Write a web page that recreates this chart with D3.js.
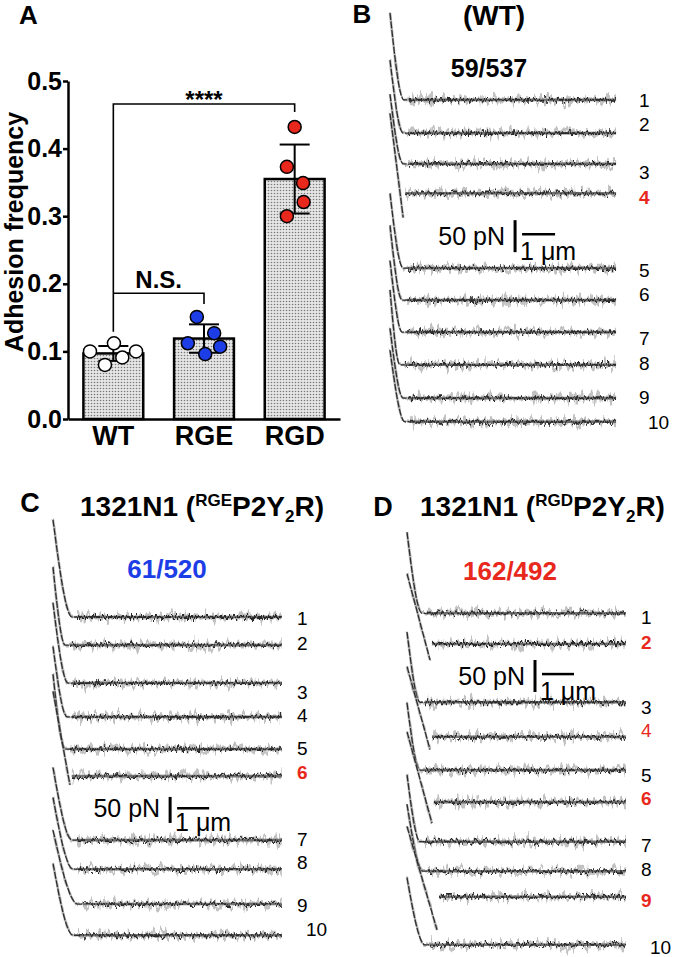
<!DOCTYPE html>
<html>
<head>
<meta charset="utf-8">
<script src="https://cdn.jsdelivr.net/npm/d3@7"></script>
<style>
  body { margin: 0; background: #fff; }
  text { font-family: Arial, "Liberation Sans", sans-serif; }
</style>
</head>
<body>
<div id="fig"></div>
<script>
// ---- panel A data ----
var groups = ["WT", "RGE", "RGD"];
var groupMeans = [0.097, 0.119, 0.355];
var groupSD = [0.011, 0.021, 0.051];
var wtPoints = [0.100, 0.112, 0.080, 0.091, 0.100];
var rgePoints = [0.151, 0.127, 0.112, 0.107, 0.096];
var rgdPoints = [0.432, 0.373, 0.349, 0.321, 0.300];
var pointJitter = [[-0.39, 0.01, -0.14, 0.15, 0.38],
                   [-0.12, 0.17, -0.27, 0.27, 0.02],
                   [0.0, -0.13, 0.14, 0.15, -0.13]];
var yTicks = [0, 0.1, 0.2, 0.3, 0.4, 0.5];

// ---- force traces (baseline offset in pN, tip height pN, knee um, adhesion dip pN) ----
var wtBase = [156, 208, 256, 302, 419, 469, 519, 570, 622, 659];
var wtTip = [136, 114, 109, 125, 117, 117, 112, 117, 109, 112];
var wtKnee = [0.42, 0.4, 0.4, 0.4, 0.4, 0.37, 0.37, 0.3, 0.4, 0.45];
var wtDip = [0, 0, 0, 38, 0, 0, 0, 0, 0, 0];
var wtCount = "59/537";

var rgeBase = [225, 279, 352, 417, 479, 531, 654, 710, 777, 837];
var rgeTip = [187, 150, 154, 135, 144, 163, 140, 138, 142, 138];
var rgeKnee = [0.6, 0.38, 0.47, 0.44, 0.38, 0.53, 0.6, 0.63, 0.78, 0.63];
var rgeDip = [0, 0, 0, 0, 0, 17, 0, 0, 0, 0];
var rgeCount = "61/520";

var rgdBase = [177, 225, 316, 370, 422, 472, 534, 580, 620, 695];
var rgdTip = [127, 110, 110, 110, 105, 110, 105, 105, 110, 105];
var rgdKnee = [0.47, 0.72, 0.41, 0.72, 0.41, 0.78, 0.41, 0.5, 0.94, 0.56];
var rgdDip = [0, 25, 0, 20, 0, 33, 0, 0, 52, 0];
var rgdCount = "162/492";

var traceNames = ["1", "2", "3", "4", "5", "6", "7", "8", "9", "10"];

var red = "#e8281c", blue = "#1d3ee6";

var svg = d3.select("#fig").append("svg")
    .attr("width", 683).attr("height", 957);

var defs = svg.append("defs");
var pat = defs.append("pattern").attr("id", "dots")
    .attr("patternUnits", "userSpaceOnUse").attr("width", 3).attr("height", 3);
pat.append("rect").attr("width", 3).attr("height", 3).attr("fill", "#e6e6e6");
pat.append("circle").attr("cx", 1.5).attr("cy", 1.5).attr("r", 0.8).attr("fill", "#7a7a7a");

function jitterFilter(id, freq, scale, seed) {
  var f = defs.append("filter").attr("id", id)
      .attr("filterUnits", "userSpaceOnUse")
      .attr("x", 0).attr("y", 0).attr("width", 683).attr("height", 957)
      .attr("color-interpolation-filters", "sRGB");
  f.append("feTurbulence").attr("type", "fractalNoise")
      .attr("baseFrequency", freq).attr("numOctaves", 2).attr("seed", seed).attr("result", "t");
  f.append("feColorMatrix").attr("in", "t").attr("type", "matrix")
      .attr("values", "0 0 0 0 0.5  0 1 0 0 0  0 0 0 0 0  0 0 0 0 1").attr("result", "m");
  f.append("feDisplacementMap").attr("in", "SourceGraphic").attr("in2", "m")
      .attr("scale", scale).attr("xChannelSelector", "R").attr("yChannelSelector", "G");
}
jitterFilter("jit1", "0.45 0.06", 12, 3);
jitterFilter("jit2", "0.3 0.05", 20, 11);
jitterFilter("jit0", "0.3 0.05", 6, 5);

// ================= Panel A =================
var y = d3.scaleLinear().domain([0, 0.5]).range([419, 81]);
var x = d3.scaleBand().domain(groups).range([68, 340]).paddingInner(0.34).paddingOuter(0.17);
var gA = svg.append("g");

gA.append("text").attr("x", 19).attr("y", 24).text("A")
    .attr("font-size", "26px").attr("font-weight", "bold");

gA.append("text").attr("transform", "translate(23,232) rotate(-90)")
    .attr("text-anchor", "middle").attr("font-size", "25px").attr("font-weight", "bold")
    .text("Adhesion frequency");

gA.selectAll(".bar").data(groups).enter().append("rect")
    .attr("x", function(d) { return x(d); })
    .attr("y", function(d, i) { return y(groupMeans[i]); })
    .attr("width", x.bandwidth())
    .attr("height", function(d, i) { return y(0) - y(groupMeans[i]); })
    .attr("fill", "url(#dots)").attr("stroke", "#000").attr("stroke-width", 2.5);

var yAxis = gA.append("g").attr("transform", "translate(68,0)")
    .call(d3.axisLeft(y).tickValues(yTicks).tickFormat(d3.format(".1f"))
        .tickSize(5).tickSizeOuter(0).tickPadding(1));
yAxis.select(".domain").attr("stroke-width", 2.5);
yAxis.selectAll(".tick line").attr("stroke-width", 2.5);
yAxis.selectAll("text").attr("font-size", "25px").attr("font-weight", "bold")
    .attr("font-family", "Arial, 'Liberation Sans', sans-serif").attr("fill", "#000");

var xAxis = gA.append("g").attr("transform", "translate(0,419)")
    .call(d3.axisBottom(x).tickSize(0).tickSizeOuter(0));
xAxis.select(".domain").attr("stroke-width", 2.5);
xAxis.selectAll("text").attr("dy", null).attr("y", 26)
    .attr("font-size", "27px").attr("font-weight", "bold")
    .attr("font-family", "Arial, 'Liberation Sans', sans-serif").attr("fill", "#000");

// error bars
groups.forEach(function(g, i) {
  var cx = x(g) + x.bandwidth() / 2;
  var eb = gA.append("g").attr("stroke", "#000").attr("stroke-width", 2);
  eb.append("line").attr("x1", cx).attr("x2", cx)
      .attr("y1", y(groupMeans[i] - groupSD[i])).attr("y2", y(groupMeans[i] + groupSD[i]));
  [groupMeans[i] - groupSD[i], groupMeans[i] + groupSD[i]].forEach(function(v) {
    eb.append("line").attr("x1", cx - 15).attr("x2", cx + 15).attr("y1", y(v)).attr("y2", y(v));
  });
});

// points
var allPoints = [wtPoints, rgePoints, rgdPoints];
var fills = ["#fff", blue, red];
allPoints.forEach(function(pts, i) {
  var cx = x(groups[i]) + x.bandwidth() / 2;
  gA.selectAll(".pt" + i).data(pts).enter().append("circle")
      .attr("cx", function(d, j) { return cx + pointJitter[i][j] * x.bandwidth(); })
      .attr("cy", function(d) { return y(d); })
      .attr("r", 6.5).attr("fill", fills[i]).attr("stroke", "#000").attr("stroke-width", 1.5);
});

// significance brackets
var cWT = x("WT") + x.bandwidth() / 2, cRGE = x("RGE") + x.bandwidth() / 2, cRGD = x("RGD") + x.bandwidth() / 2;
gA.append("path").attr("fill", "none").attr("stroke", "#000").attr("stroke-width", 1.6)
    .attr("d", "M" + cWT + "," + y(0.129) + "V" + y(0.466) + "H" + cRGD + "V" + y(0.454));
gA.append("path").attr("fill", "none").attr("stroke", "#000").attr("stroke-width", 1.6)
    .attr("d", "M" + cWT + "," + y(0.186) + "H" + cRGE + "V" + y(0.170));
gA.append("text").attr("x", (cWT + cRGD) / 2).attr("y", y(0.466) + 4)
    .attr("text-anchor", "middle").attr("font-size", "24px").attr("font-weight", "bold").text("****");
gA.append("text").attr("x", (cWT + cRGE) / 2).attr("y", y(0.186) - 5)
    .attr("text-anchor", "middle").attr("font-size", "24px").attr("font-weight", "bold").text("N.S.");

// ================= trace panels =================
function tracePanel(opt) {
  var g = svg.append("g");
  var xs = d3.scaleLinear().domain([0, 7]).range([opt.x0, opt.x0 + 7 * opt.pxUm]);
  var ys = d3.scaleLinear().domain([0, 100]).range([opt.y0, opt.y0 + 100 * opt.pxPN]);
  var line = d3.line().x(function(d) { return xs(d[0]); }).y(function(d) { return ys(d[1]); });
  var smooth = d3.line().curve(d3.curveMonotoneX)
      .x(function(d) { return xs(d[0]); }).y(function(d) { return ys(d[1]); });

  opt.base.forEach(function(b, i) {
    var dip = opt.dip[i], knee = opt.knee[i];
    var start = dip > 0 ? knee + 0.06 : knee + 0.15;
    var flat = [[start, b], [opt.end, b]];
    // retract segment
    var approach = dip > 0 ? line([[0, b - opt.tip[i]], [knee, b + dip]])
        : smooth([[0, b - opt.tip[i]], [knee, b], [knee + 0.15, b]]);
    g.append("path").attr("d", approach).attr("fill", "none")
        .attr("stroke", "#8a8a8a").attr("stroke-width", 2.6).attr("stroke-opacity", 0.6)
        .attr("filter", "url(#jit0)");
    g.append("path").attr("d", approach).attr("fill", "none")
        .attr("stroke", "#2e2e2e").attr("stroke-width", 1.3).attr("stroke-dasharray", "7,1.5");
    // noisy baseline band
    g.append("path").attr("d", line(flat)).attr("fill", "none")
        .attr("stroke", "#777").attr("stroke-width", 5).attr("stroke-opacity", 0.45)
        .attr("filter", "url(#jit2)");
    g.append("path").attr("d", line(flat)).attr("fill", "none")
        .attr("stroke", "#555").attr("stroke-width", 2.6).attr("stroke-opacity", 0.8);
    g.append("path").attr("d", line(flat)).attr("fill", "none")
        .attr("stroke", "#2a2a2a").attr("stroke-width", 1.8).attr("filter", "url(#jit1)");

    var lab = opt.labels[i];
    g.append("text").attr("x", i === 9 ? opt.labX + 9 : opt.labX)
        .attr("y", ys(b) + opt.labNudge[i] + 7)
        .attr("font-size", "19px")
        .attr("font-weight", lab.bold ? "bold" : "normal")
        .attr("fill", lab.red ? red : "#000")
        .text(traceNames[i]);
  });

  // scale bar: 50 pN, 1 um
  var sb = opt.bar;
  g.append("line").attr("x1", xs(sb[0])).attr("x2", xs(sb[0]))
      .attr("y1", ys(sb[1])).attr("y2", ys(sb[1] + 50))
      .attr("stroke", "#000").attr("stroke-width", 3);
  g.append("line").attr("x1", xs(sb[0]) + 7).attr("x2", xs(sb[0] + 1) + 7)
      .attr("y1", ys(sb[1] + 22)).attr("y2", ys(sb[1] + 22))
      .attr("stroke", "#000").attr("stroke-width", 2.5);
  g.append("text").attr("x", xs(sb[0]) - 10).attr("y", ys(sb[1] + 39))
      .attr("text-anchor", "end").attr("font-size", "25px").text("50 pN");
  g.append("text").attr("x", xs(sb[0]) + 5).attr("y", ys(sb[1] + 50) + 8)
      .attr("font-size", "25px").text("1 \u03bcm");
  return g;
}

var plain = {}, rb = {red: true, bold: true}, rn = {red: true};
function labs(spec) { return traceNames.map(function(n, i) { return spec[i] || plain; }); }

tracePanel({x0: 390, pxUm: 33, y0: 0, pxPN: 0.64, end: 6.85,
  base: wtBase, tip: wtTip, knee: wtKnee, dip: wtDip,
  labels: labs({3: rb}), labX: 639, labNudge: [0, -9, 8, 4, 2, -6, 6, -2, -1, 0], bar: [3.79, 344]});

tracePanel({x0: 53, pxUm: 32, y0: 500, pxPN: 0.52, end: 7.15,
  base: rgeBase, tip: rgeTip, knee: rgeKnee, dip: rgeDip,
  labels: labs({5: rb}), labX: 297, labNudge: [1, -2, 9, -2, -1, -4, -1, -7, 1, -6], bar: [3.66, 571]});

tracePanel({x0: 407, pxUm: 32, y0: 500, pxPN: 0.64, end: 6.84,
  base: rgdBase, tip: rgdTip, knee: rgdKnee, dip: rgdDip,
  labels: labs({1: rb, 3: rn, 5: rb, 8: rb}), labX: 641, labNudge: [4, -2, 5, -7, 5, -4, 3, -2, 3, 2], bar: [4.0, 250]});

// ---- panel headers ----
function txt(xp, yp, s, size, opts) {
  opts = opts || {};
  return svg.append("text").attr("x", xp).attr("y", yp).text(s)
      .attr("font-size", size + "px").attr("font-weight", opts.normal ? "normal" : "bold")
      .attr("text-anchor", opts.anchor || "middle").attr("fill", opts.fill || "#000");
}
txt(362, 23, "B", 26);
txt(494, 25, "(WT)", 28);
txt(489, 77, wtCount, 25);
txt(30, 512, "C", 27);
txt(167, 578, rgeCount, 26, {fill: blue});
txt(383, 516, "D", 27);
txt(510, 580, rgdCount, 26, {fill: red});

function title(xp, yp, sup) {
  var t = svg.append("text").attr("x", xp).attr("y", yp)
      .attr("font-size", "28px").attr("font-weight", "bold");
  t.append("tspan").text("1321N1 (");
  t.append("tspan").attr("font-size", "17px").attr("dy", -10).text(sup);
  t.append("tspan").attr("dy", 10).text("P2Y");
  t.append("tspan").attr("font-size", "17px").attr("dy", 6).text("2");
  t.append("tspan").attr("dy", -6).text("R)");
}
title(80, 516, "RGE");
title(420, 516, "RGD");
</script>
</body>
</html>
